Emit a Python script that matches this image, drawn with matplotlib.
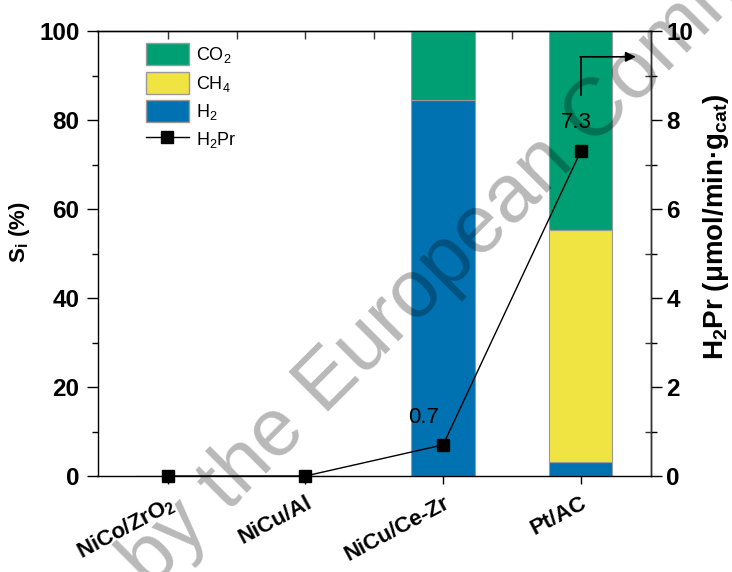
import matplotlib
matplotlib.use("Agg")
import matplotlib.pyplot as plt
from matplotlib.patches import Patch
from matplotlib.lines import Line2D
import numpy as np

plt.rcParams['font.family'] = ['Liberation Sans', 'DejaVu Sans']
plt.rcParams['mathtext.fontset'] = 'custom'
plt.rcParams['mathtext.rm'] = 'Liberation Sans'
plt.rcParams['mathtext.bf'] = 'Liberation Sans:bold'
plt.rcParams['mathtext.it'] = 'Liberation Sans:italic'

# Catalysts and product selectivities (%)
catalysts = ["NiCo/ZrO$_\\mathbf{2}$", "NiCu/Al", "NiCu/Ce-Zr", "Pt/AC"]
sel_h2 = [0.0, 0.0, 84.6, 3.1]
sel_ch4 = [0.0, 0.0, 0.0, 52.2]
sel_co2 = [0.0, 0.0, 15.4, 44.7]
# H2 production rate (umol/min.g_cat)
h2pr = [0.0, 0.0, 0.7, 7.3]
h2pr_labels = ["", "", "0.7", "7.3"]

c_co2 = "#009E73"
c_ch4 = "#F0E442"
c_h2 = "#0072B2"
edge = "#9a9a9a"
frame = "#333333"

fig = plt.figure(figsize=(7.32, 5.72), dpi=100)
ax = fig.add_axes([97.5/732, 1-476/572, (651-97.5)/732, (476-31)/572])

x = np.arange(1, len(catalysts) + 1)
w = 0.46
b1 = np.array(sel_h2)
b2 = b1 + np.array(sel_ch4)
ax.bar(x, sel_h2, w, color=c_h2, edgecolor=edge, linewidth=0.8, zorder=2)
ax.bar(x, sel_ch4, w, bottom=b1, color=c_ch4, edgecolor=edge, linewidth=0.8, zorder=2)
ax.bar(x, sel_co2, w, bottom=b2, color=c_co2, edgecolor=edge, linewidth=0.8, zorder=2)

ax.set_xlim(0.49, 4.51)
ax.set_ylim(0, 100)
ax.set_yticks(np.arange(0, 101, 20))
ax.set_yticks(np.arange(10, 100, 20), minor=True)
ax.set_xticks(x)
ax.set_xticklabels(catalysts, rotation=28, ha='right', rotation_mode='anchor',
                   fontsize=16, fontweight='bold')
ax.tick_params(axis='x', direction='out', length=6, width=1, pad=6)
ax.tick_params(axis='y', which='major', direction='out', length=8, width=1,
                labelsize=17.5, pad=5)
ax.tick_params(axis='y', which='minor', direction='out', length=4, width=1)
for lab in ax.get_yticklabels():
    lab.set_fontweight('bold')
ax.set_ylabel("S$_\\mathbf{i}$ (%)", fontsize=16, fontweight='bold', labelpad=5)
ax.yaxis.label.set_y(0.548)
for sp in ax.spines.values():
    sp.set_linewidth(1.0)
    sp.set_color(frame)

# inward ticks on the top and right frame
top = ax.secondary_xaxis('top')
top.set_xticks(np.arange(1, 4.01, 0.5))
top.tick_params(direction='in', length=6, width=1, labeltop=False, color=frame)
top.spines['top'].set_linewidth(1.0)
top.spines['top'].set_color(frame)
rgt = ax.secondary_yaxis('right')
rgt.set_yticks(np.arange(10, 100, 20))
rgt.tick_params(direction='in', length=4, width=1, labelright=False, color=frame)

# H2 production rate on the right axis
ax2 = ax.twinx()
ax2.set_ylim(0, 10)
ax2.set_yticks(np.arange(0, 11, 2))
ax2.set_yticks(np.arange(1, 10, 2), minor=True)
ax2.tick_params(axis='y', which='major', direction='out', length=8, width=1,
                labelsize=17.5, pad=3)
ax2.tick_params(axis='y', which='minor', direction='out', length=4, width=1)
for lab in ax2.get_yticklabels():
    lab.set_fontweight('bold')
ax2.spines['right'].set_linewidth(1.0)
ax2.spines['right'].set_color(frame)
ax2.set_ylabel("H$_\\mathbf{2}$Pr (μmol/min·g$_\\mathbf{cat}$)", fontsize=20,
               fontweight='bold', labelpad=6)
ax2.yaxis.label.set_y(0.56)
ax2.plot(x, h2pr, color='black', lw=1.0, marker='s', markersize=9, zorder=5,
         clip_on=False)
label_offsets = {2: (-14, 12), 3: (-3, 13)}
for i, (xi, yi, t) in enumerate(zip(x, h2pr, h2pr_labels)):
    if t:
        ax2.annotate(t, (xi, yi), xytext=label_offsets[i], textcoords='offset points',
                     ha='center', va='bottom', fontsize=16)

# arrow pointing to the right-hand axis
ax2.plot([x[-1], x[-1]], [h2pr[-1] + 1.26, h2pr[-1] + 2.12], color='black', lw=1.2)
ax2.annotate("", xy=(x[-1] + 0.40, h2pr[-1] + 2.12), xytext=(x[-1] - 0.005, h2pr[-1] + 2.12),
             arrowprops=dict(arrowstyle='-|>', color='black', lw=1.2,
                             mutation_scale=15, shrinkA=0, shrinkB=0))

handles = [Patch(facecolor=c_co2, edgecolor=edge, label="CO$_2$"),
           Patch(facecolor=c_ch4, edgecolor=edge, label="CH$_4$"),
           Patch(facecolor=c_h2, edgecolor=edge, label="H$_2$"),
           Line2D([], [], color='black', lw=1.0, marker='s', markersize=8, label="H$_2$Pr")]
ax2.legend(handles=handles, loc='upper left', bbox_to_anchor=(0.061, 1.005),
           frameon=False, fontsize=13, handlelength=2.4, handleheight=1.5,
           labelspacing=0.35, handletextpad=0.4, borderpad=0.3)

fig.text(150/732, 1-590/572, "by the European Commission", fontsize=59,
         rotation=45, rotation_mode='anchor', ha='left', va='baseline',
         color='black', alpha=0.28, zorder=20)

fig.savefig("out.png", dpi=100)
